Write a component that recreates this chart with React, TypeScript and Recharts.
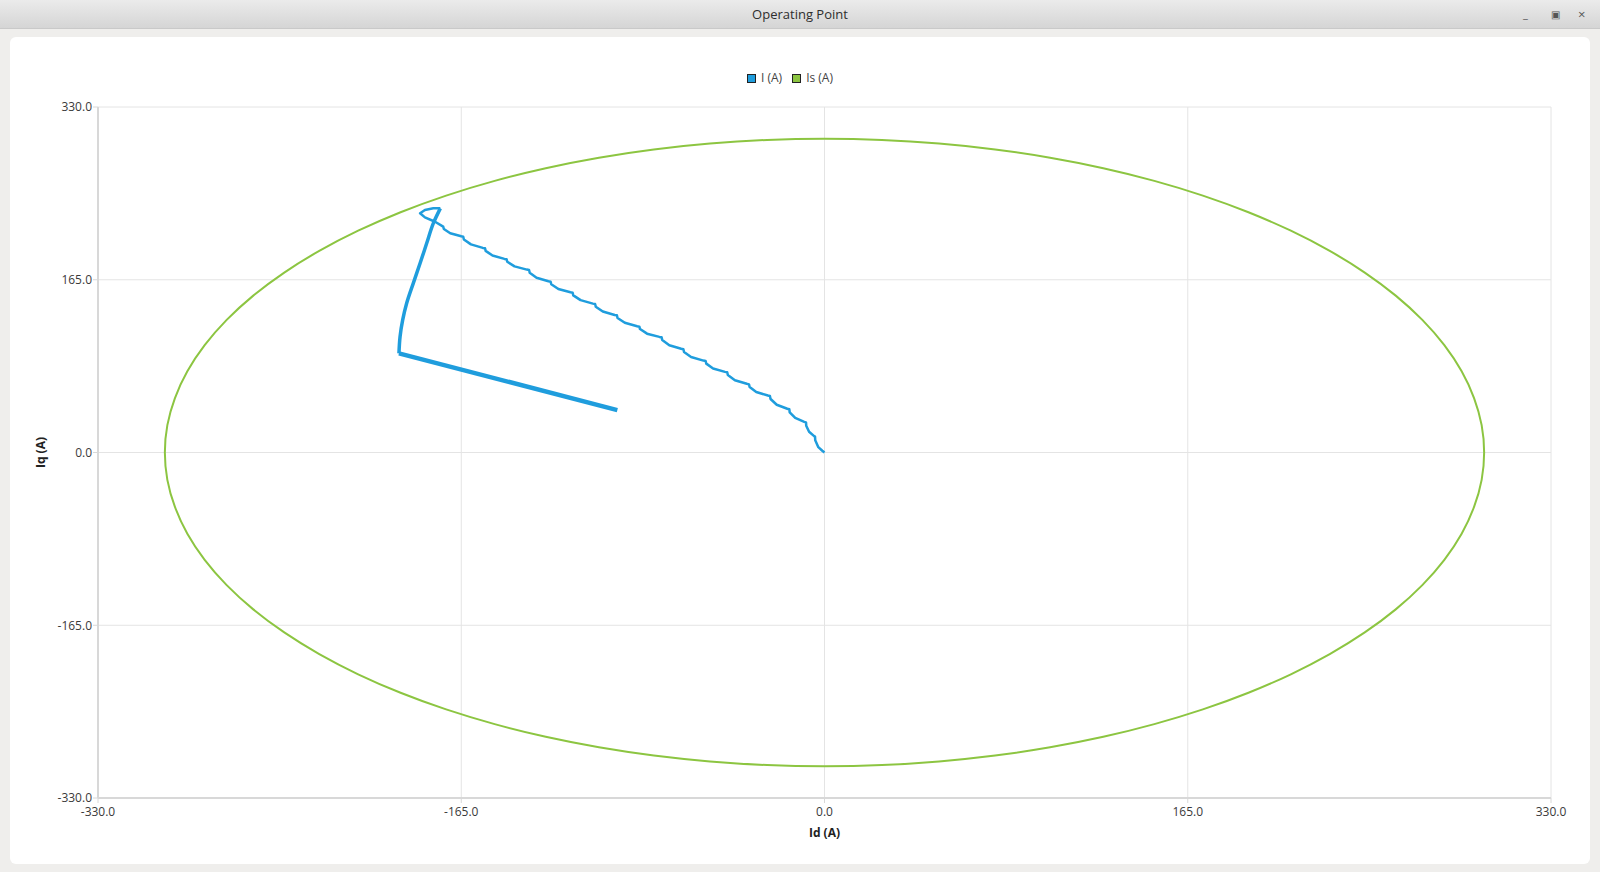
import { ScatterChart, Scatter, XAxis, YAxis, CartesianGrid } from "recharts"

// limit circle Is (A), read around the ellipse every 5 degrees (closed by the curve type)
const limitCircle = [
  { x: 300, y: 0 }, { x: 298.9, y: 26.1 }, { x: 295.4, y: 52.1 }, { x: 289.8, y: 77.6 },
  { x: 281.9, y: 102.6 }, { x: 271.9, y: 126.8 }, { x: 259.8, y: 150 }, { x: 245.7, y: 172.1 },
  { x: 229.8, y: 192.8 }, { x: 212.1, y: 212.1 }, { x: 192.8, y: 229.8 }, { x: 172.1, y: 245.7 },
  { x: 150, y: 259.8 }, { x: 126.8, y: 271.9 }, { x: 102.6, y: 281.9 }, { x: 77.6, y: 289.8 },
  { x: 52.1, y: 295.4 }, { x: 26.1, y: 298.9 }, { x: 0, y: 300 }, { x: -26.1, y: 298.9 },
  { x: -52.1, y: 295.4 }, { x: -77.6, y: 289.8 }, { x: -102.6, y: 281.9 }, { x: -126.8, y: 271.9 },
  { x: -150, y: 259.8 }, { x: -172.1, y: 245.7 }, { x: -192.8, y: 229.8 }, { x: -212.1, y: 212.1 },
  { x: -229.8, y: 192.8 }, { x: -245.7, y: 172.1 }, { x: -259.8, y: 150 }, { x: -271.9, y: 126.8 },
  { x: -281.9, y: 102.6 }, { x: -289.8, y: 77.6 }, { x: -295.4, y: 52.1 }, { x: -298.9, y: 26.1 },
  { x: -300, y: 0 }, { x: -298.9, y: -26.1 }, { x: -295.4, y: -52.1 }, { x: -289.8, y: -77.6 },
  { x: -281.9, y: -102.6 }, { x: -271.9, y: -126.8 }, { x: -259.8, y: -150 }, { x: -245.7, y: -172.1 },
  { x: -229.8, y: -192.8 }, { x: -212.1, y: -212.1 }, { x: -192.8, y: -229.8 }, { x: -172.1, y: -245.7 },
  { x: -150, y: -259.8 }, { x: -126.8, y: -271.9 }, { x: -102.6, y: -281.9 }, { x: -77.6, y: -289.8 },
  { x: -52.1, y: -295.4 }, { x: -26.1, y: -298.9 }, { x: 0, y: -300 }, { x: 26.1, y: -298.9 },
  { x: 52.1, y: -295.4 }, { x: 77.6, y: -289.8 }, { x: 102.6, y: -281.9 }, { x: 126.8, y: -271.9 },
  { x: 150, y: -259.8 }, { x: 172.1, y: -245.7 }, { x: 192.8, y: -229.8 }, { x: 212.1, y: -212.1 },
  { x: 229.8, y: -192.8 }, { x: 245.7, y: -172.1 }, { x: 259.8, y: -150 }, { x: 271.9, y: -126.8 },
  { x: 281.9, y: -102.6 }, { x: 289.8, y: -77.6 }, { x: 295.4, y: -52.1 }, { x: 298.9, y: -26.1 },
]

// operating point trace: small loop at the top, then the stepped path down to the origin
const currentPath = [
  { x: -174.5, y: 233.2 }, { x: -177.7, y: 233.2 }, { x: -181.5, y: 231.6 }, { x: -183.7, y: 228.5 },
  { x: -181.5, y: 224.6 }, { x: -176.9, y: 220.4 },
  { x: -173.2, y: 215.7 }, { x: -172.9, y: 213.5 }, { x: -170.0, y: 209.4 }, { x: -165.0, y: 206.5 },
  { x: -164.1, y: 206.1 }, { x: -163.8, y: 203.5 }, { x: -160.6, y: 198.8 }, { x: -155.2, y: 195.4 },
  { x: -154.2, y: 195.0 }, { x: -153.9, y: 192.6 }, { x: -150.8, y: 188.1 }, { x: -145.4, y: 184.9 },
  { x: -144.4, y: 184.5 }, { x: -144.1, y: 182.2 }, { x: -140.8, y: 177.8 }, { x: -135.2, y: 174.7 },
  { x: -134.2, y: 174.3 }, { x: -133.9, y: 171.7 }, { x: -130.8, y: 166.9 }, { x: -125.4, y: 163.5 },
  { x: -124.4, y: 163.1 }, { x: -124.1, y: 160.7 }, { x: -120.9, y: 156.2 }, { x: -115.4, y: 153.0 },
  { x: -114.4, y: 152.6 }, { x: -114.1, y: 150.1 }, { x: -110.8, y: 145.5 }, { x: -105.2, y: 142.2 },
  { x: -104.2, y: 141.8 }, { x: -103.9, y: 139.3 }, { x: -100.7, y: 134.7 }, { x: -95.3, y: 131.4 },
  { x: -94.3, y: 131.0 }, { x: -94.0, y: 128.5 }, { x: -90.7, y: 123.9 }, { x: -85.1, y: 120.6 },
  { x: -84.1, y: 120.2 }, { x: -83.8, y: 117.9 }, { x: -80.6, y: 113.5 }, { x: -75.0, y: 110.4 },
  { x: -74.0, y: 110.0 }, { x: -73.7, y: 107.4 }, { x: -70.5, y: 102.5 }, { x: -65.1, y: 99.1 },
  { x: -64.1, y: 98.6 }, { x: -63.8, y: 96.0 }, { x: -60.6, y: 91.2 }, { x: -55.0, y: 87.8 },
  { x: -54.0, y: 87.4 }, { x: -53.7, y: 84.9 }, { x: -50.6, y: 80.3 }, { x: -45.2, y: 77.0 },
  { x: -44.2, y: 76.6 }, { x: -43.9, y: 74.0 }, { x: -40.7, y: 69.0 }, { x: -35.3, y: 65.6 },
  { x: -34.3, y: 65.1 }, { x: -34.0, y: 62.5 }, { x: -31.0, y: 57.8 }, { x: -25.7, y: 54.4 },
  { x: -24.8, y: 54.0 }, { x: -24.5, y: 51.1 }, { x: -21.7, y: 45.6 }, { x: -16.9, y: 41.8 },
  { x: -16.0, y: 41.3 }, { x: -15.8, y: 38.4 }, { x: -13.3, y: 33.1 }, { x: -9.2, y: 29.3 },
  { x: -8.4, y: 28.8 }, { x: -8.3, y: 25.6 }, { x: -7.0, y: 19.8 }, { x: -4.7, y: 15.6 },
  { x: -4.3, y: 15.1 }, { x: -4.2, y: 11.6 }, { x: -2.8, y: 5.1 }, { x: -1.0, y: 1.7 },
  { x: 0, y: 0 },
]

// dense part of the trace: arc down from the loop, then the straight run
const currentArc = [
  { x: -174.5, y: 233.2 }, { x: -177.7, y: 218.9 }, { x: -180.7, y: 199.8 }, { x: -183.7, y: 180.7 },
  { x: -186.8, y: 161.6 }, { x: -189.8, y: 142.5 }, { x: -191.6, y: 126.6 }, { x: -192.8, y: 110.6 },
  { x: -193.3, y: 94.7 },
]
const currentRun = [
  { x: -193.3, y: 94.7 }, { x: -94.1, y: 40.5 },
]

const axisTicks = [-330, -165, 0, 165, 330]

const BLUE = "#1f9ddd"
const GREEN = "#8cc541"
const GRID = "#e4e4e4"
const FONT = '"Open Sans", "Noto Sans", sans-serif'

const noDot = () => <g />

function Legend() {
  const box = (color: string) => (
    <span
      style={{
        display: "inline-block",
        width: 7,
        height: 7,
        background: color,
        border: "1px solid #222",
        marginRight: 5,
      }}
    />
  )
  return (
    <div
      style={{
        position: "absolute",
        left: 747,
        top: 70,
        fontSize: 12,
        color: "#444",
        display: "flex",
        alignItems: "center",
        gap: 10,
        lineHeight: "16px",
      }}
    >
      <span style={{ display: "flex", alignItems: "center" }}>{box(BLUE)}I (A)</span>
      <span style={{ display: "flex", alignItems: "center" }}>{box(GREEN)}Is (A)</span>
    </div>
  )
}

export default function App() {
  const tick = { fill: "#3a3a3a", fontSize: 12, fontFamily: FONT }
  return (
    <div
      style={{
        position: "fixed",
        left: 0,
        top: 0,
        width: 1600,
        height: 872,
        background: "#efeeec",
        fontFamily: FONT,
        overflow: "hidden",
      }}
    >
      <div
        style={{
          position: "absolute",
          left: 0,
          top: 0,
          width: 1600,
          height: 28,
          background: "linear-gradient(#ebebeb, #d5d5d5)",
          borderBottom: "1px solid #c9c9c9",
          textAlign: "center",
          lineHeight: "28px",
          fontSize: 13,
          color: "#2e2e2e",
        }}
      >
        Operating Point
        <span style={{ position: "absolute", left: 1523, top: 0, fontSize: 11, color: "#555" }}>_</span>
        <span style={{ position: "absolute", left: 1551, top: 0, fontSize: 10, color: "#555" }}>▣</span>
        <span style={{ position: "absolute", left: 1578, top: 0, fontSize: 13, color: "#555" }}>×</span>
      </div>
      <div
        style={{
          position: "absolute",
          left: 10,
          top: 37,
          width: 1580,
          height: 827,
          background: "#fff",
          borderRadius: 6,
        }}
      />
      <Legend />
      <div style={{ position: "absolute", left: 0, top: 0 }}>
        <ScatterChart width={1600} height={872} margin={{ top: 107, right: 49, bottom: 34, left: 28 }}>
          <CartesianGrid stroke={GRID} />
          <XAxis
            type="number"
            dataKey="x"
            domain={[-330, 330]}
            ticks={axisTicks}
            tickFormatter={(v: number) => v.toFixed(1)}
            tick={tick}
            tickSize={5}
            tickMargin={4}
            axisLine={{ stroke: "#d8d8d8", strokeWidth: 2 }}
            tickLine={{ stroke: "#d8d8d8" }}
            height={40}
            allowDataOverflow
            label={{
              value: "Id (A)",
              position: "insideBottom",
              offset: 1,
              style: { fontWeight: 700, fontSize: 12, fill: "#222", fontFamily: FONT },
            }}
          />
          <YAxis
            type="number"
            dataKey="y"
            domain={[-330, 330]}
            ticks={axisTicks}
            tickFormatter={(v: number) => v.toFixed(1)}
            tick={tick}
            tickSize={5}
            tickMargin={1}
            axisLine={{ stroke: "#d8d8d8", strokeWidth: 2 }}
            tickLine={{ stroke: "#d8d8d8" }}
            width={70}
            allowDataOverflow
            label={{
              value: "Iq (A)",
              angle: -90,
              position: "insideLeft",
              offset: 13,
              style: { textAnchor: "middle", fontWeight: 700, fontSize: 12, fill: "#222", fontFamily: FONT },
            }}
          />
          <Scatter
            name="Is (A)"
            data={limitCircle}
            line={{ stroke: GREEN, strokeWidth: 2 }}
            lineJointType="basisClosed"
            shape={noDot}
            fill={GREEN}
            isAnimationActive={false}
          />
          <Scatter
            name="I (A)"
            data={currentPath}
            line={{ stroke: BLUE, strokeWidth: 2.5, strokeLinejoin: "round" }}
            shape={noDot}
            fill={BLUE}
            isAnimationActive={false}
          />
          <Scatter
            name="I (A) arc"
            data={currentArc}
            line={{ stroke: BLUE, strokeWidth: 3.5, strokeLinejoin: "round" }}
            lineJointType="monotoneY"
            shape={noDot}
            fill={BLUE}
            legendType="none"
            isAnimationActive={false}
          />
          <Scatter
            name="I (A) run"
            data={currentRun}
            line={{ stroke: BLUE, strokeWidth: 4.5, strokeLinejoin: "round" }}
            shape={noDot}
            fill={BLUE}
            legendType="none"
            isAnimationActive={false}
          />
        </ScatterChart>
      </div>
    </div>
  )
}
